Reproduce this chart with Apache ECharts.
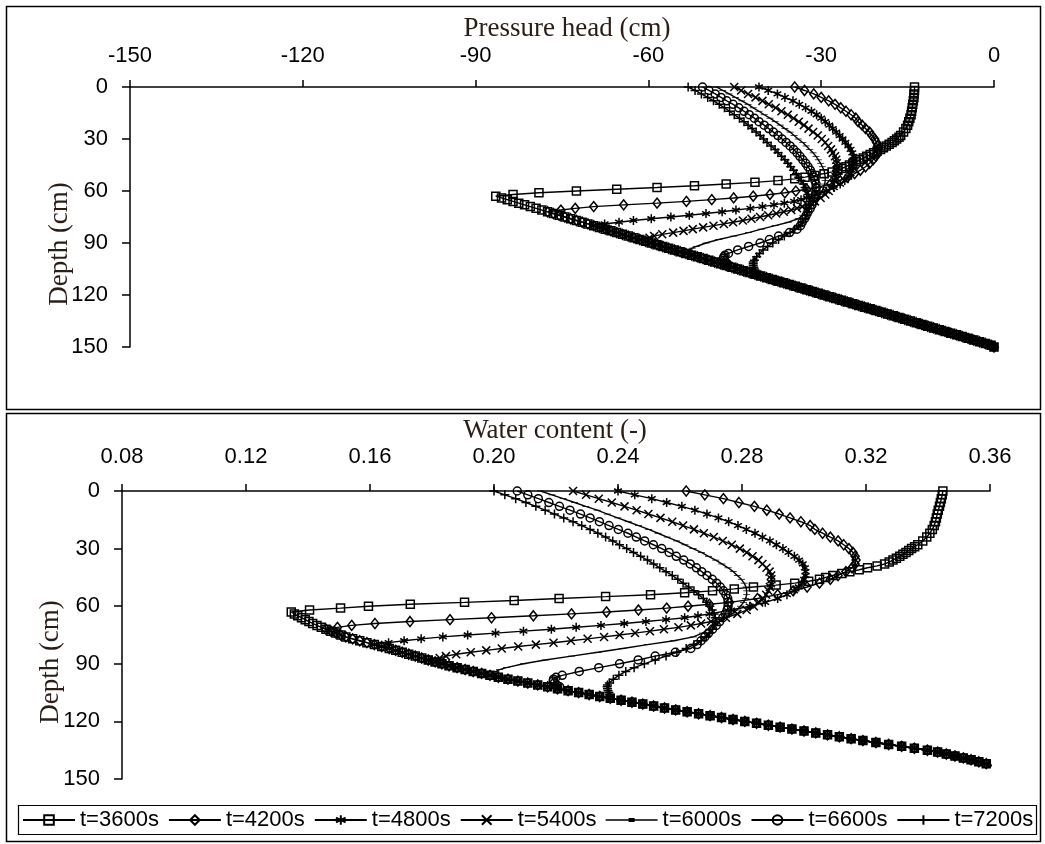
<!DOCTYPE html>
<html><head><meta charset="utf-8">
<script src="https://cdn.jsdelivr.net/npm/echarts/dist/echarts.min.js"></script>
<style>html,body{margin:0;padding:0;background:#fff}#c{width:1045px;height:844px}</style>
</head><body><div id="c"></div>
<script>
// ---------------- data ----------------
const seriesNames = ['t=3600s','t=4200s','t=4800s','t=5400s','t=6000s','t=6600s','t=7200s'];
const depthTicks = [0, 30, 60, 90, 120, 150];
const headTicks = [-150, -120, -90, -60, -30, 0];
const waterTicks = [0.08, 0.12, 0.16, 0.20, 0.24, 0.28, 0.32, 0.36];

// common lower profile (initial hydrostatic part), depth in cm
const baseDepth = [63,64,65,66,67,68,69,70,71,72,73,74,75,76,77,78,79,80,81,82,83,84,85,86,87,88,89,90,91,92,93,94,95,96,97,98,99,100,101,102,103,104,105,106,107,108,109,110,111,112,113,114,115,116,117,118,119,120,121,122,123,124,125,126,127,128,129,130,131,132,133,134,135,136,137,138,139,140,141,142,143,144,145,146,147,148,149,150];
const baseHead = [-86.5,-85.5,-84.5,-83.5,-82.5,-81.5,-80.5,-79.5,-78.5,-77.5,-76.5,-75.5,-74.5,-73.5,-72.5,-71.5,-70.5,-69.5,-68.5,-67.5,-66.5,-65.5,-64.5,-63.5,-62.5,-61.5,-60.5,-59.5,-58.5,-57.5,-56.5,-55.5,-54.5,-53.5,-52.5,-51.5,-50.5,-49.5,-48.5,-47.5,-46.5,-45.5,-44.5,-43.5,-42.5,-41.5,-40.5,-39.5,-38.5,-37.5,-36.5,-35.5,-34.5,-33.5,-32.5,-31.5,-30.5,-29.5,-28.5,-27.5,-26.5,-25.5,-24.5,-23.5,-22.5,-21.5,-20.5,-19.5,-18.5,-17.5,-16.5,-15.5,-14.5,-13.5,-12.5,-11.5,-10.5,-9.5,-8.5,-7.5,-6.5,-5.5,-4.5,-3.5,-2.5,-1.5,-0.5,0];
const baseWater = [0.1346,0.1356,0.1367,0.1379,0.1391,0.1403,0.1415,0.1429,0.1443,0.1458,0.1474,0.149,0.1506,0.1522,0.1544,0.1567,0.159,0.1614,0.1638,0.1662,0.1683,0.1704,0.1725,0.1746,0.1767,0.1788,0.181,0.1832,0.1855,0.1881,0.1907,0.1933,0.196,0.1987,0.2014,0.2045,0.2077,0.2109,0.2141,0.2173,0.2205,0.2239,0.2273,0.2307,0.2341,0.2375,0.241,0.2445,0.248,0.2515,0.255,0.2586,0.2623,0.266,0.2697,0.2734,0.2771,0.2809,0.2847,0.2885,0.2923,0.2961,0.3,0.3038,0.3076,0.3114,0.3152,0.319,0.3232,0.3273,0.3315,0.3356,0.3398,0.3431,0.3459,0.3487,0.3514,0.3539,0.3564,0.3588,0.3605];

// upper (time dependent) parts
const depth3600 = [0,2,4,6,8,10,12,14,16,18,20,22,24,26,28,29,30,31,32,33,34,35,36,37,38,39,40,41,42,43,44,45,46,47,48,49,50,51,52,53,54,55,56,57,58,59,60,61,62];
const head3600 = [-13.8,-13.8,-13.9,-13.9,-14.0,-14.1,-14.2,-14.3,-14.4,-14.6,-14.8,-15.0,-15.3,-15.7,-16.2,-16.5,-16.9,-17.3,-17.7,-18.2,-18.7,-19.2,-19.7,-20.3,-20.9,-21.5,-22.1,-22.7,-23.3,-23.9,-24.5,-25.1,-25.7,-26.4,-27.1,-28.1,-29.5,-31.1,-32.8,-34.6,-37.5,-41.5,-46.5,-52.0,-58.5,-65.5,-72.5,-79.0,-83.5];
const water3600 = [0.3448,0.3446,0.3443,0.344,0.3437,0.3433,0.343,0.3427,0.3424,0.342,0.3414,0.3406,0.3396,0.3383,0.3367,0.3357,0.3347,0.3338,0.3329,0.3319,0.3309,0.3298,0.3287,0.3275,0.326,0.3236,0.3205,0.3178,0.3148,0.3122,0.3093,0.307,0.305,0.3015,0.297,0.291,0.2837,0.2775,0.2705,0.2615,0.2505,0.236,0.221,0.2065,0.1905,0.173,0.1595,0.1505,0.1405];

const depth4200 = [0,2,4,6,8,10,12,14,16,18,20,22,24,26,28,30,32,34,36,38,40,42,44,46,48,50,52,54,56,58,59,60,61,62,63,64,65,66,67,68,69,70,71];
const head4200 = [-34.6,-32.9,-31.3,-30.0,-28.7,-27.6,-26.6,-25.7,-24.8,-24.0,-23.6,-22.9,-22.3,-21.6,-21.2,-20.7,-20.4,-20.2,-20.1,-20.2,-20.5,-21.0,-21.6,-22.3,-23.2,-24.2,-25.4,-26.7,-28.4,-30.8,-32.5,-34.4,-36.3,-38.9,-41.8,-45.2,-49.0,-53.4,-58.5,-64.3,-69.5,-72.7,-75.2];
const water4200 = [0.262,0.268,0.274,0.279,0.284,0.288,0.292,0.2955,0.299,0.302,0.3035,0.306,0.3085,0.311,0.3128,0.3145,0.3158,0.3165,0.3168,0.3165,0.3155,0.3135,0.311,0.3085,0.305,0.301,0.2965,0.2915,0.285,0.276,0.2695,0.2626,0.2557,0.2466,0.2363,0.225,0.2127,0.1992,0.1858,0.1729,0.1616,0.1541,0.1495];

const depth4800 = [0,2,4,6,8,10,12,14,16,18,20,22,24,26,28,30,32,34,36,38,40,42,44,46,48,50,52,54,56,58,60,62,64,65,66,67,68,69,70,71,72,73,74,75,76,77,78,79];
const head4800 = [-40.8,-39.2,-37.6,-36.3,-34.9,-33.8,-32.7,-31.7,-30.8,-30.0,-29.3,-28.6,-28.0,-27.4,-26.8,-26.3,-25.8,-25.3,-24.9,-24.6,-24.4,-24.4,-24.4,-24.5,-24.7,-24.9,-25.3,-25.9,-26.7,-27.8,-29.1,-30.7,-32.5,-33.5,-34.7,-36.4,-38.2,-40.2,-42.3,-44.8,-47.2,-50.0,-52.9,-56.1,-59.5,-62.6,-65.1,-67.6];
const water4800 = [0.24,0.2454,0.2509,0.2557,0.2606,0.2648,0.2687,0.2724,0.2757,0.2787,0.2814,0.2842,0.2866,0.289,0.2911,0.2932,0.295,0.2969,0.2984,0.2996,0.3003,0.3005,0.3005,0.30,0.2993,0.2983,0.2968,0.2945,0.2915,0.2875,0.2825,0.2765,0.2695,0.2658,0.2615,0.2555,0.249,0.242,0.2345,0.2265,0.2185,0.2095,0.2005,0.1915,0.1835,0.1765,0.171,0.166];

const depth5400 = [0,2,4,6,8,10,12,14,16,18,20,22,24,26,28,30,32,34,36,38,40,42,44,46,48,50,52,54,56,58,60,62,64,66,68,69,70,71,72,73,74,75,76,77,78,79,80,81,82,83,84,85,86,87];
const head5400 = [-45.1,-43.9,-42.7,-41.4,-40.2,-39.1,-37.9,-36.9,-35.8,-34.8,-33.9,-33.0,-32.2,-31.4,-30.6,-29.9,-29.3,-28.8,-28.3,-28.0,-27.6,-27.4,-27.3,-27.2,-27.3,-27.4,-27.5,-27.7,-27.9,-28.3,-28.7,-29.3,-30.1,-31.1,-32.4,-33.3,-34.2,-35.2,-36.5,-37.8,-39.2,-40.6,-42.1,-43.6,-45.3,-46.9,-48.7,-50.5,-52.3,-53.9,-55.7,-57.6,-59.0,-59.8];
const water5400 = [0.2255,0.2297,0.2338,0.238,0.2421,0.246,0.2498,0.2537,0.2575,0.261,0.2645,0.2677,0.2709,0.2738,0.2767,0.2793,0.2815,0.2834,0.2853,0.2866,0.2879,0.2889,0.2894,0.2895,0.2893,0.289,0.2885,0.2878,0.2868,0.2855,0.2838,0.2815,0.2785,0.2748,0.27,0.2668,0.2635,0.2595,0.2548,0.2503,0.2455,0.2405,0.2355,0.2302,0.2248,0.2192,0.2135,0.2078,0.2025,0.1975,0.1925,0.1878,0.1845,0.1825];

const depth6000 = [0,2,4,6,8,10,12,14,16,18,20,22,24,26,28,30,32,34,36,38,40,42,44,46,48,50,52,54,56,58,60,62,64,66,68,70,72,74,76,78,80,82,84,86,88,90,92,93,94,95,96];
const head6000 = [-48.2,-47.1,-46.0,-44.9,-43.8,-42.7,-41.8,-40.8,-39.9,-38.9,-38.0,-37.1,-36.3,-35.4,-34.7,-34.0,-33.2,-32.6,-32.0,-31.4,-30.9,-30.5,-30.1,-29.8,-29.5,-29.4,-29.3,-29.3,-29.4,-29.6,-29.8,-30.2,-30.6,-31.1,-31.6,-32.2,-32.6,-33.2,-34.0,-35.7,-38.0,-40.4,-42.6,-45.2,-47.8,-50.0,-51.7,-52.4,-52.9,-53.0,-52.8];
const water6000 = [0.215,0.2187,0.2223,0.226,0.2296,0.2333,0.2366,0.2399,0.2433,0.2466,0.2499,0.2529,0.2559,0.2589,0.2616,0.2642,0.2669,0.2692,0.2715,0.2735,0.2755,0.2772,0.2785,0.2798,0.2807,0.2813,0.2815,0.2815,0.2812,0.2805,0.2795,0.2783,0.2768,0.275,0.2728,0.2708,0.2692,0.2672,0.2643,0.258,0.2495,0.2415,0.2335,0.225,0.2165,0.2095,0.204,0.2018,0.2006,0.2003,0.2008];

const depth6600 = [0,2,4,6,8,10,12,14,16,18,20,22,24,26,28,30,32,34,36,38,40,42,44,46,48,50,52,54,56,58,60,62,64,66,68,70,72,74,76,78,80,82,84,86,88,90,92,94,96,97,98,99,100,101,102];
const head6600 = [-50.6,-49.5,-48.4,-47.4,-46.4,-45.3,-44.3,-43.4,-42.5,-41.6,-40.8,-39.9,-39.1,-38.3,-37.5,-36.8,-36.1,-35.4,-34.8,-34.2,-33.7,-33.2,-32.7,-32.3,-31.9,-31.6,-31.3,-31.1,-30.9,-30.9,-30.9,-31.0,-31.1,-31.4,-31.6,-31.9,-32.3,-32.6,-32.9,-33.3,-33.6,-34.2,-35.5,-37.4,-39.0,-40.6,-42.6,-44.5,-46.1,-46.7,-46.9,-47.0,-46.8,-46.6,-46.3];
const water6600 = [0.2075,0.2109,0.2143,0.2177,0.2211,0.2245,0.2279,0.231,0.234,0.2371,0.2401,0.2432,0.2459,0.2486,0.2514,0.2541,0.2565,0.2588,0.2612,0.2633,0.2653,0.267,0.2687,0.2704,0.2718,0.273,0.274,0.2748,0.2754,0.2755,0.2755,0.2752,0.2746,0.2738,0.2728,0.2717,0.2705,0.2692,0.268,0.2668,0.2655,0.2635,0.2585,0.252,0.2465,0.2405,0.2338,0.2275,0.222,0.22,0.2192,0.2191,0.2195,0.2202,0.2212];

const depth7200 = [0,2,4,6,8,10,12,14,16,18,20,22,24,26,28,30,32,34,36,38,40,42,44,46,48,50,52,54,56,58,60,62,64,66,68,70,72,74,76,78,80,82,84,86,88,90,92,94,96,98,100,101,102,103,104,105,106,107];
const head7200 = [-53.1,-51.9,-50.8,-49.7,-48.7,-47.7,-46.8,-45.9,-45.1,-44.2,-43.4,-42.7,-42.0,-41.3,-40.6,-40.0,-39.4,-38.7,-38.0,-37.5,-36.9,-36.3,-35.8,-35.3,-34.8,-34.3,-33.9,-33.5,-33.1,-32.8,-32.5,-32.3,-32.1,-32.0,-32.0,-32.1,-32.3,-32.5,-32.8,-33.3,-33.9,-34.6,-35.4,-36.4,-37.4,-38.4,-39.3,-40.1,-40.7,-41.2,-41.6,-41.8,-41.8,-41.8,-41.7,-41.6,-41.5,-41.5];
const water7200 = [0.2,0.2035,0.207,0.2103,0.2135,0.2165,0.2195,0.2225,0.2255,0.2283,0.231,0.2335,0.236,0.2383,0.2405,0.2428,0.245,0.2473,0.2495,0.2515,0.2535,0.2555,0.2575,0.2593,0.261,0.2628,0.2645,0.266,0.2675,0.2686,0.2696,0.2704,0.271,0.2714,0.2715,0.2712,0.2705,0.2696,0.2685,0.2668,0.2645,0.262,0.259,0.2555,0.252,0.2485,0.2452,0.2425,0.2403,0.2385,0.2372,0.2366,0.2365,0.2366,0.2368,0.2371,0.2373,0.2374];

// ---------------- build ----------------
const upper = [
  [depth3600, head3600, water3600],
  [depth4200, head4200, water4200],
  [depth4800, head4800, water4800],
  [depth5400, head5400, water5400],
  [depth6000, head6000, water6000],
  [depth6600, head6600, water6600],
  [depth7200, head7200, water7200]
];
function profile(depths, vals, baseVals) {
  const pts = depths.map((d, i) => [vals[i], d]);
  const last = depths[depths.length - 1];
  baseDepth.forEach((d, i) => { if (d > last && i < baseVals.length) pts.push([baseVals[i], d]); });
  return pts;
}

const clear = 'rgba(255,255,255,0)';
const marker = [
  { symbol: 'rect', size: 8, fill: clear, bw: 1.5 },
  { symbol: 'diamond', size: [8, 10], fill: clear, bw: 1.5 },
  { symbol: 'path://M5,0L5,10M0.7,2.5L9.3,7.5M9.3,2.5L0.7,7.5', size: 9, fill: clear, bw: 1.5 },
  { symbol: 'path://M0,0L10,10M10,0L0,10', size: 8, fill: clear, bw: 1.5 },
  { symbol: 'path://M0,0L10,0L10,3L0,3Z', size: [7, 2.5], fill: '#000', bw: 0 },
  { symbol: 'circle', size: 8, fill: clear, bw: 1.5 },
  { symbol: 'path://M5,0L5,10M0,5L10,5', size: 9, fill: clear, bw: 1.5 }
];

const series = [];
seriesNames.forEach((name, k) => {
  const [dep, hd, wt] = upper[k];
  const m = marker[k];
  const common = {
    name, type: 'line', symbol: m.symbol, symbolSize: m.size, symbolKeepAspect: true, showAllSymbol: true,
    lineStyle: { color: '#000', width: 1.4 },
    itemStyle: { color: m.fill, borderColor: '#000', borderWidth: m.bw },
    emphasis: { disabled: true }, animation: false, z: 2 + k
  };
  series.push(Object.assign({}, common, { xAxisIndex: 0, yAxisIndex: 0, data: profile(dep, hd, baseHead) }));
  series.push(Object.assign({}, common, { xAxisIndex: 1, yAxisIndex: 1, data: profile(dep, wt, baseWater) }));
});

const tickFont = { fontFamily: 'Liberation Sans', fontSize: 22, color: '#000' };
function xAx(grid, ticks, fmt, margin) {
  return {
    gridIndex: grid, type: 'value', position: 'top',
    min: ticks[0], max: ticks[ticks.length - 1],
    interval: Math.round((ticks[1] - ticks[0]) * 1000) / 1000,
    axisLine: { show: true, onZero: false, lineStyle: { color: '#000', width: 1.5 } },
    axisTick: { show: true, inside: false, length: 7, lineStyle: { color: '#000', width: 1.5 } },
    axisLabel: Object.assign({ margin: margin, formatter: fmt, showMinLabel: true, showMaxLabel: true }, tickFont),
    splitLine: { show: false }
  };
}
function yAx(grid, margin) {
  return {
    gridIndex: grid, type: 'value', inverse: true,
    min: depthTicks[0], max: depthTicks[depthTicks.length - 1], interval: depthTicks[1] - depthTicks[0],
    axisLine: { show: true, onZero: false, lineStyle: { color: '#000', width: 1.5 } },
    axisTick: { show: true, inside: false, length: 8, lineStyle: { color: '#000', width: 1.5 } },
    axisLabel: Object.assign({ margin: margin }, tickFont),
    splitLine: { show: false }
  };
}

const legendData = seriesNames.map((n, k) => k === 4
  ? { name: n, icon: 'path://M0,4.2L52,4.2L52,5.8L0,5.8Z M23,3L29,3L29,7L23,7Z' }
  : { name: n });

const titleColor = '#2a1c16';
const serif = '"Liberation Serif", "Times New Roman", serif';
const option = {
  backgroundColor: '#fff',
  animation: false,
  grid: [
    { left: 130, top: 87, width: 864, height: 260 },
    { left: 122, top: 491, width: 868, height: 288 }
  ],
  xAxis: [
    xAx(0, headTicks, v => String(v), 20),
    xAx(1, waterTicks, v => v.toFixed(2), 23)
  ],
  yAxis: [yAx(0, 22), yAx(1, 22)],
  legend: {
    data: legendData, left: 22, top: 809, padding: 0,
    itemWidth: 52, itemHeight: 12, itemGap: 9,
    textStyle: { fontFamily: 'Liberation Sans', fontSize: 22, color: '#000' }
  },
  graphic: [
    { type: 'rect', shape: { x: 6.5, y: 6.5, width: 1034, height: 403 }, style: { fill: 'none', stroke: '#000', lineWidth: 1.5 }, silent: true },
    { type: 'rect', shape: { x: 6.5, y: 413.5, width: 1034, height: 428 }, style: { fill: 'none', stroke: '#000', lineWidth: 1.5 }, silent: true },
    { type: 'rect', shape: { x: 18.5, y: 805.5, width: 1018, height: 29 }, style: { fill: 'none', stroke: '#000', lineWidth: 1.2 }, silent: true },
    { type: 'text', x: 567, y: 29, style: { text: 'Pressure head (cm)', font: '27px ' + serif, fill: titleColor, align: 'center', verticalAlign: 'middle', textAlign: 'center', textVerticalAlign: 'middle' } },
    { type: 'text', x: 555, y: 431, style: { text: 'Water content (-)', font: '27px ' + serif, fill: titleColor, align: 'center', verticalAlign: 'middle', textAlign: 'center', textVerticalAlign: 'middle' } },
    { type: 'text', x: 60, y: 244, rotation: Math.PI / 2, style: { text: 'Depth (cm)', font: '27px ' + serif, fill: titleColor, align: 'center', verticalAlign: 'middle', textAlign: 'center', textVerticalAlign: 'middle' } },
    { type: 'text', x: 51, y: 662, rotation: Math.PI / 2, style: { text: 'Depth (cm)', font: '27px ' + serif, fill: titleColor, align: 'center', verticalAlign: 'middle', textAlign: 'center', textVerticalAlign: 'middle' } }
  ],
  series: series
};
const chart = echarts.init(document.getElementById('c'), null, { renderer: 'canvas' });
chart.setOption(option);
</script></body></html>
